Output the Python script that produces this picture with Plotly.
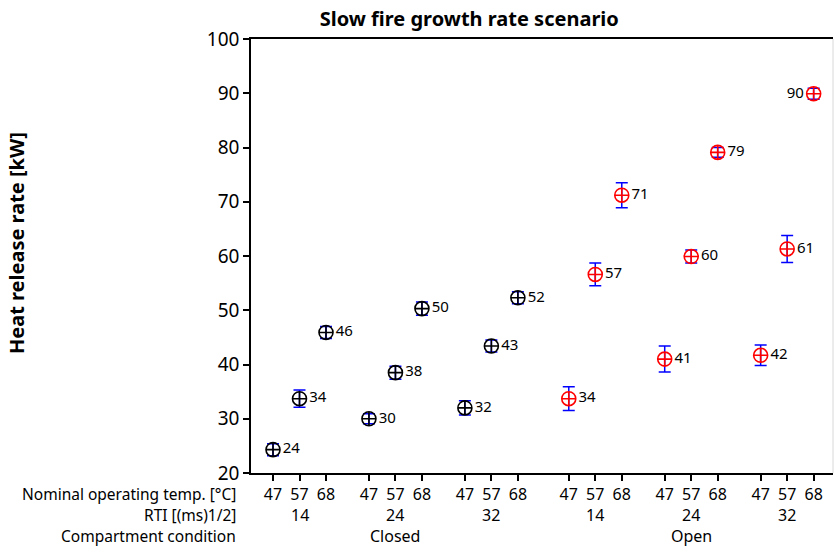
import plotly.graph_objects as go

# Experimental design: compartment condition > RTI > nominal operating temperature
conditions = ["Closed", "Open"]
rti_values = ["14", "24", "32"]
temps = ["47", "57", "68"]

# Heat release rate [kW] at sprinkler activation, with error half-widths
closed_hrr = [24.3, 33.7, 45.9, 30.0, 38.5, 50.3, 32.0, 43.4, 52.3]
closed_err = [1.1, 1.6, 1.1, 0.9, 1.2, 1.2, 1.3, 1.1, 1.1]
open_hrr = [33.7, 56.6, 71.2, 41.0, 59.9, 79.1, 41.7, 61.3, 89.9]
open_err = [2.2, 2.1, 2.3, 2.4, 1.2, 0.9, 1.9, 2.5, 1.0]

GROUP_STEP = 3.62   # distance between RTI groups
COND_GAP = 0.3      # extra space between compartment conditions
FONT = "Noto Sans"
ROW_FONT = dict(family=FONT, size=16, color="black")
HEAD_FONT = dict(family=FONT, size=15.5, color="black")


def pos(ci, ri, ti):
    return ci * (len(rti_values) * GROUP_STEP + COND_GAP) + ri * GROUP_STEP + ti


def positions(ci):
    return [pos(ci, ri, ti) for ri in range(len(rti_values)) for ti in range(len(temps))]


fig = go.Figure()

series = [(0, closed_hrr, closed_err, "black"), (1, open_hrr, open_err, "red")]
for ci, vals, errs, col in series:
    xs = positions(ci)
    tpos = ["middle right"] * len(vals)
    if ci == 1:
        tpos[-1] = "middle left"
    fig.add_trace(go.Scatter(
        x=xs, y=vals, mode="markers+text",
        text=[f"{v:.0f}" for v in vals],
        textposition=tpos,
        textfont=dict(family=FONT, size=15, color="black"),
        marker=dict(symbol="circle-cross-open", size=14, color=col,
                    line=dict(width=1.6, color=col)),
        error_y=dict(type="data", array=errs, visible=True,
                     color="#0000ff", thickness=1.5, width=6),
        showlegend=False, cliponaxis=False,
    ))

tickvals = positions(0) + positions(1)
ticktext = temps * (len(rti_values) * len(conditions))

annotations = []
# RTI and compartment rows under the temperature ticks
for ci in range(len(conditions)):
    for ri, r in enumerate(rti_values):
        annotations.append(dict(x=pos(ci, ri, 1), y=0, xref="x", yref="paper",
                                text=r, showarrow=False, yanchor="middle", yshift=-42,
                                font=ROW_FONT))
    annotations.append(dict(x=pos(ci, 1, 1), y=0, xref="x", yref="paper",
                            text=conditions[ci], showarrow=False, yanchor="middle",
                            yshift=-63, font=ROW_FONT))
# Row headers
for txt, shift in [("Nominal operating temp. [°C]", -21),
                   ("RTI [(ms)1/2]", -42),
                   ("Compartment condition", -63)]:
    annotations.append(dict(x=-0.023, y=0, xref="paper", yref="paper", text=txt,
                            xanchor="right", yanchor="middle", showarrow=False,
                            yshift=shift, font=HEAD_FONT))
# Y axis title
annotations.append(dict(x=-0.402, y=0.53, xref="paper", yref="paper",
                        text="<b>Heat release rate [kW]</b>", textangle=-90,
                        showarrow=False, xanchor="center", yanchor="middle",
                        font=dict(family=FONT, size=20, color="black")))

fig.update_layout(
    width=835, height=548,
    margin=dict(l=251, r=2, t=39, b=75),
    paper_bgcolor="white", plot_bgcolor="white",
    title=dict(text="<b>Slow fire growth rate scenario</b>", x=0.562, xanchor="center",
               y=0.966, yanchor="middle",
               font=dict(family=FONT, size=20, color="black")),
    xaxis=dict(range=[-0.83, 21.13], tickvals=tickvals, ticktext=ticktext,
               ticks="outside", ticklen=6, tickwidth=1.5, tickcolor="black",
               showline=True, linecolor="black", linewidth=1.5, mirror=True,
               showgrid=False, zeroline=False,
               tickfont=ROW_FONT),
    yaxis=dict(range=[20, 100], dtick=10, ticks="outside", ticklen=6,
               tickwidth=1.5, tickcolor="black",
               showline=True, linecolor="black", linewidth=1.5,
               showgrid=False, zeroline=False,
               tickfont=dict(family=FONT, size=19, color="black")),
    annotations=annotations,
    shapes=[dict(type="line", xref="paper", yref="paper", x0=1, x1=1, y0=0, y1=1,
                 line=dict(color="#d8d8d8", width=1))],
)

fig.write_html("out.html")
